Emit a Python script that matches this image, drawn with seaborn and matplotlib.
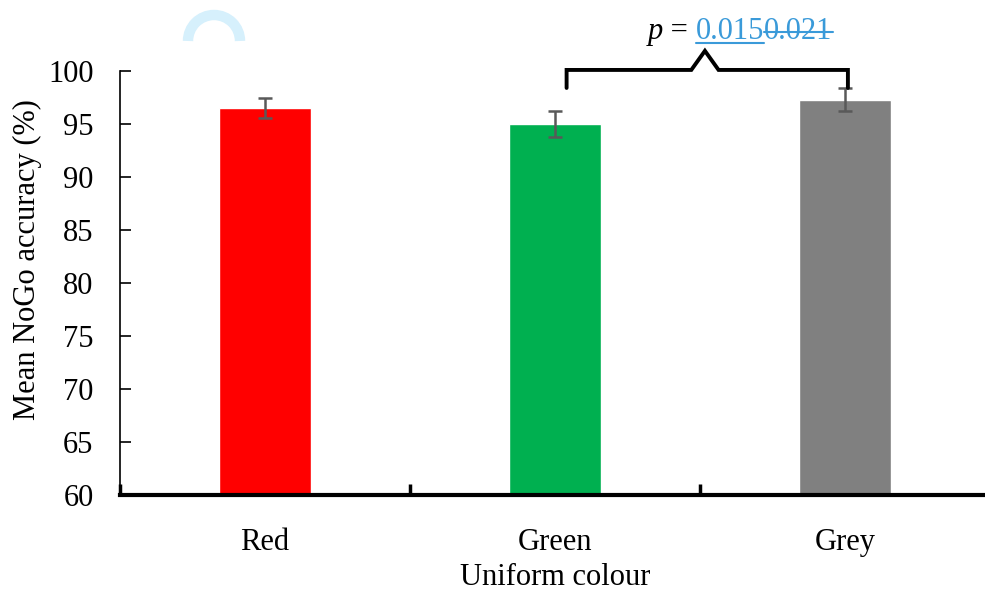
import numpy as np
import pandas as pd
import matplotlib
matplotlib.use("Agg")
import matplotlib.pyplot as plt
import seaborn as sns
from matplotlib.patches import Arc

colours = ["Red", "Green", "Grey"]
accuracy = [96.5, 95.0, 97.3]
sem = [0.95, 1.2, 1.05]
bar_colours = ["#FF0000", "#00B050", "#808080"]
y_ticks = [60, 65, 70, 75, 80, 85, 90, 95, 100]

df = pd.DataFrame({"colour": colours, "accuracy": accuracy, "sem": sem})

sns.set_style("white")
plt.rcParams["font.family"] = ["Liberation Serif", "DejaVu Serif"]
plt.rcParams["text.color"] = "black"
plt.rcParams["axes.labelcolor"] = "black"
plt.rcParams["xtick.color"] = "black"
plt.rcParams["ytick.color"] = "black"

fig = plt.figure(figsize=(9.85, 5.94), dpi=100)
ax = fig.add_axes([120 / 985, 99 / 594, 870 / 985, 424 / 594])

sns.barplot(data=df, x="colour", y="accuracy", hue="colour", palette=bar_colours,
            width=0.32, legend=False, ax=ax, saturation=1)
ax.errorbar(np.arange(len(colours)), df["accuracy"], yerr=df["sem"], fmt="none",
            ecolor="#595959", elinewidth=1.8, capsize=4.8, capthick=1.8)

ax.set_ylim(60, 100)
ax.set_xlim(-0.5, 2.5)
ax.set_yticks(y_ticks)
ax.tick_params(axis="y", left=True, direction="in", length=8, width=1.2,
               labelsize=22, pad=19, colors="black")
ax.tick_params(axis="x", which="major", bottom=True, length=0, labelsize=22, pad=24,
               labelcolor="black")
ax.set_xticks([-0.5, 0.5, 1.5], minor=True)
ax.tick_params(axis="x", which="minor", bottom=True, direction="in", length=8,
               width=2.5, color="black")

for s in ["top", "right"]:
    ax.spines[s].set_visible(False)
ax.spines["left"].set_linewidth(1.2)
ax.spines["left"].set_color("black")
ax.spines["bottom"].set_linewidth(3)
ax.spines["bottom"].set_color("black")

ax.set_xlabel("Uniform colour", fontsize=22, labelpad=4, color="black")
ax.set_ylabel("Mean NoGo accuracy (%)", fontsize=22, color="black")
ax.yaxis.set_label_coords(-0.09, 0.555)

# significance bracket
bx = [1.04, 1.04, 1.47, 1.517, 1.564, 2.01, 2.01]
by = [98.4, 100.1, 100.1, 101.9, 100.1, 100.1, 98.4]
ax.plot(bx, by, color="black", lw=2.8, clip_on=False, solid_joinstyle="miter")

blue = "#3A9AD9"
fig.canvas.draw()
r = fig.canvas.get_renderer()
yb = 1 - 39 / 594
t0 = fig.text(648 / 985, yb, "p", fontsize=22, fontstyle="italic", color="black", va="baseline")
bb0 = t0.get_window_extent(r)
t1 = fig.text(bb0.x1 / 985, yb, " = ", fontsize=22, color="black", va="baseline")
bb1 = t1.get_window_extent(r)
t2 = fig.text(bb1.x1 / 985, yb, "0.015", fontsize=22, color=blue, va="baseline")
bb2 = t2.get_window_extent(r)
t3 = fig.text(bb2.x1 / 985, yb, "0.021", fontsize=22, color=blue, va="baseline")
bb3 = t3.get_window_extent(r)
base = 594 - 39
fig.add_artist(plt.Line2D([bb2.x0 / 985, bb2.x1 / 985], [(base - 4) / 594] * 2,
                          color=blue, lw=1.5, transform=fig.transFigure))
fig.add_artist(plt.Line2D([bb3.x0 / 985, bb3.x1 / 985], [(base + 7) / 594] * 2,
                          color=blue, lw=1.5, transform=fig.transFigure))

# faint arc artefact
fig.add_artist(Arc((214 / 985, 1 - 41 / 594), 52 / 985, 52 / 594, theta1=0, theta2=180,
                   color="#D6F0FC", lw=7.5, transform=fig.transFigure))

fig.savefig("out.png", dpi=100)
